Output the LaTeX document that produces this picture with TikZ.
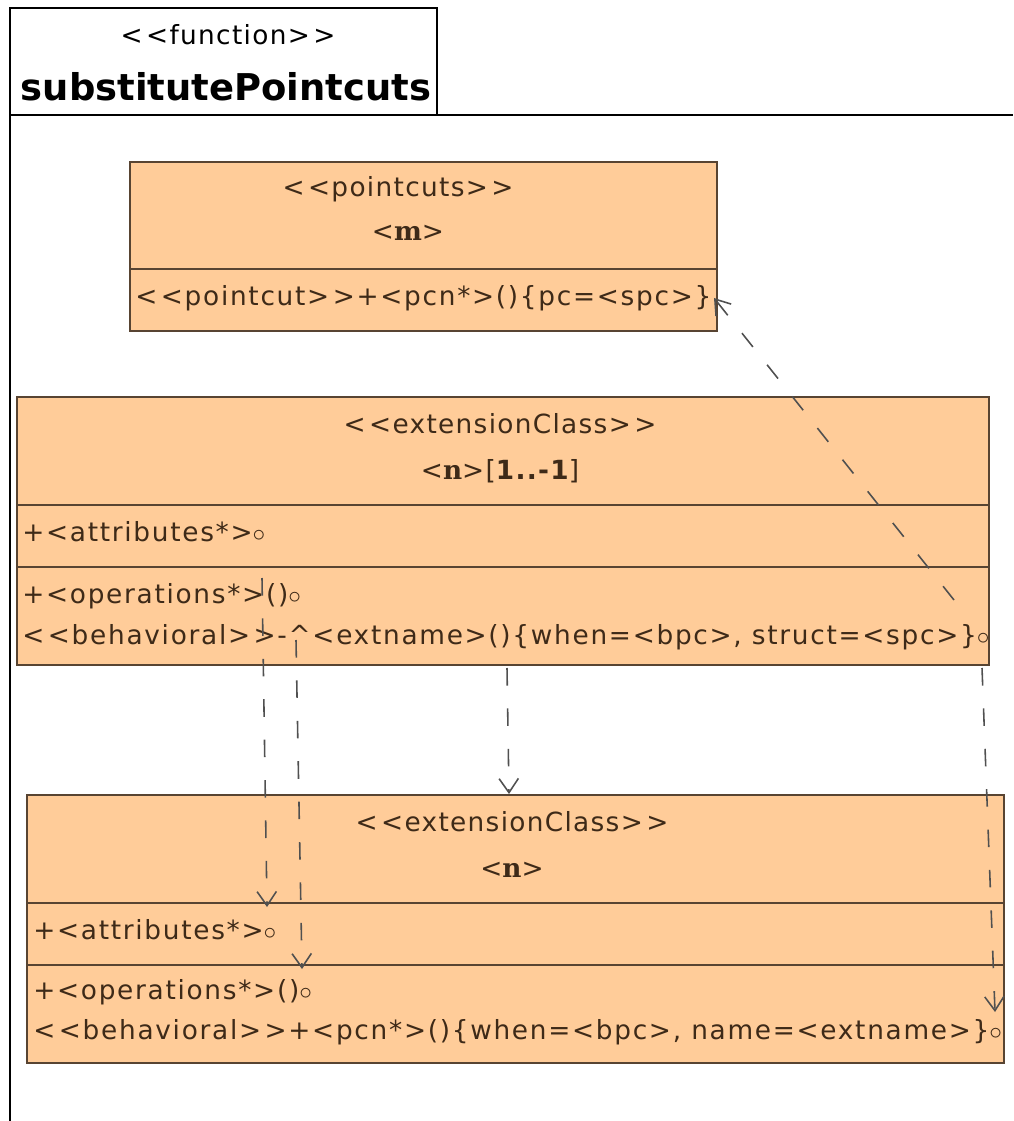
\documentclass[tikz,border=0pt]{standalone}
\usepackage{fontspec}
\setmainfont{DejaVu Sans}[Ligatures=TeXOff]
\newfontfamily\namefont{DejaVu Serif}
\usetikzlibrary{arrows.meta}

\definecolor{classfill}{RGB}{255,204,153}
\definecolor{classline}{RGB}{88,68,50}
\definecolor{classtext}{RGB}{62,42,24}
\definecolor{depline}{RGB}{80,80,80}

\newcommand{\stereo}[1]{<\kern2pt<#1>\kern2pt>}
\newcommand{\headfont}{\fontsize{15}{18}\selectfont\addfontfeature{LetterSpace=5}}
\newcommand{\memberfont}{\fontsize{15}{18}\selectfont\addfontfeature{LetterSpace=6.5}}

\tikzset{
  classbox/.style={draw=classline,fill=classfill,line width=0.9pt},
  member/.style={anchor=base west,inner sep=0pt,text=classtext,font=\memberfont},
  headline/.style={anchor=base,inner sep=0pt,text=classtext,font=\headfont},
  dependency/.style={draw=depline,line width=0.9pt,dash pattern=on 10pt off 13pt,
    -{Straight Barb[length=8pt,width=11pt]}}
}

\begin{document}
\begin{tikzpicture}[x=0.02cm,y=-0.02cm]
  \useasboundingbox (0,0) rectangle (1013,1121);
  % function frame
  \draw[line width=1pt] (10,1121) -- (10,8) -- (437,8) -- (437,115);
  \draw[line width=1pt] (10,115) -- (1013,115);
  \node[headline,text=black] (fkind) at (228,45) {\stereo{function}};
  \node[anchor=base,inner sep=0pt,font=\bfseries\fontsize{21}{24}\selectfont] (fname) at (226,101) {substitutePointcuts};

  % pointcuts class
  \draw[classbox] (130,162) rectangle (717,331);
  \draw[classbox] (130,269) -- (717,269);
  \node[headline] (mkind) at (398,197) {\stereo{pointcuts}};
  \node[headline] (mname) at (408,241) {<{\namefont\bfseries m}>};
  \node[member] (mpc) at (135,306) {\stereo{pointcut}+<pcn*>()\{pc=<spc>\}};

  % extensionClass with range
  \draw[classbox] (17,397) rectangle (989,665);
  \draw[classbox] (17,505) -- (989,505);
  \draw[classbox] (17,567) -- (989,567);
  \node[headline] (nkind) at (500,433) {\stereo{extensionClass}};
  \node[headline] (nname) at (500,479) {<{\namefont\bfseries n}>[{\bfseries 1..-1}]};
  \node[member] (nattr) at (22,541) {+<attributes*>$\circ$};
  \node[member] (nops) at (22,603) {+<operations*>()$\circ$};
  \node[member] (nbeh) at (22,644) {\stereo{behavioral}-\^{}<extname>()\{when=<bpc>, struct=<spc>\}$\circ$};

  % extensionClass target
  \draw[classbox] (27,795) rectangle (1004,1063);
  \draw[classbox] (27,903) -- (1004,903);
  \draw[classbox] (27,965) -- (1004,965);
  \node[headline] (tkind) at (512,831) {\stereo{extensionClass}};
  \node[headline] (tname) at (512,877) {<{\namefont\bfseries n}>};
  \node[member] (tattr) at (33,939) {+<attributes*>$\circ$};
  \node[member] (tops) at (33,999) {+<operations*>()$\circ$};
  \node[member] (tbeh) at (33,1039) {\stereo{behavioral}+<pcn*>()\{when=<bpc>, name=<extname>\}$\circ$};

  % dependency ends
  \coordinate (structSrc) at (954,600);
  \coordinate (pcDst) at (714,298);
  \coordinate (opsSrc) at (262,578);
  \coordinate (attrDst) at (267,907);
  \coordinate (behSrc) at (296,640);
  \coordinate (opsDst) at (302,969);
  \coordinate (classSrc) at (507,668);
  \coordinate (classDst) at (509,794);
  \coordinate (nameSrc) at (982,668);
  \coordinate (nameDst) at (995,1012);

  \draw[dependency] (structSrc) -- (pcDst);
  \draw[dependency] (opsSrc) -- (attrDst);
  \draw[dependency] (behSrc) -- (opsDst);
  \draw[dependency] (classSrc) -- (classDst);
  \draw[dependency] (nameSrc) -- (nameDst);
\end{tikzpicture}
\end{document}
